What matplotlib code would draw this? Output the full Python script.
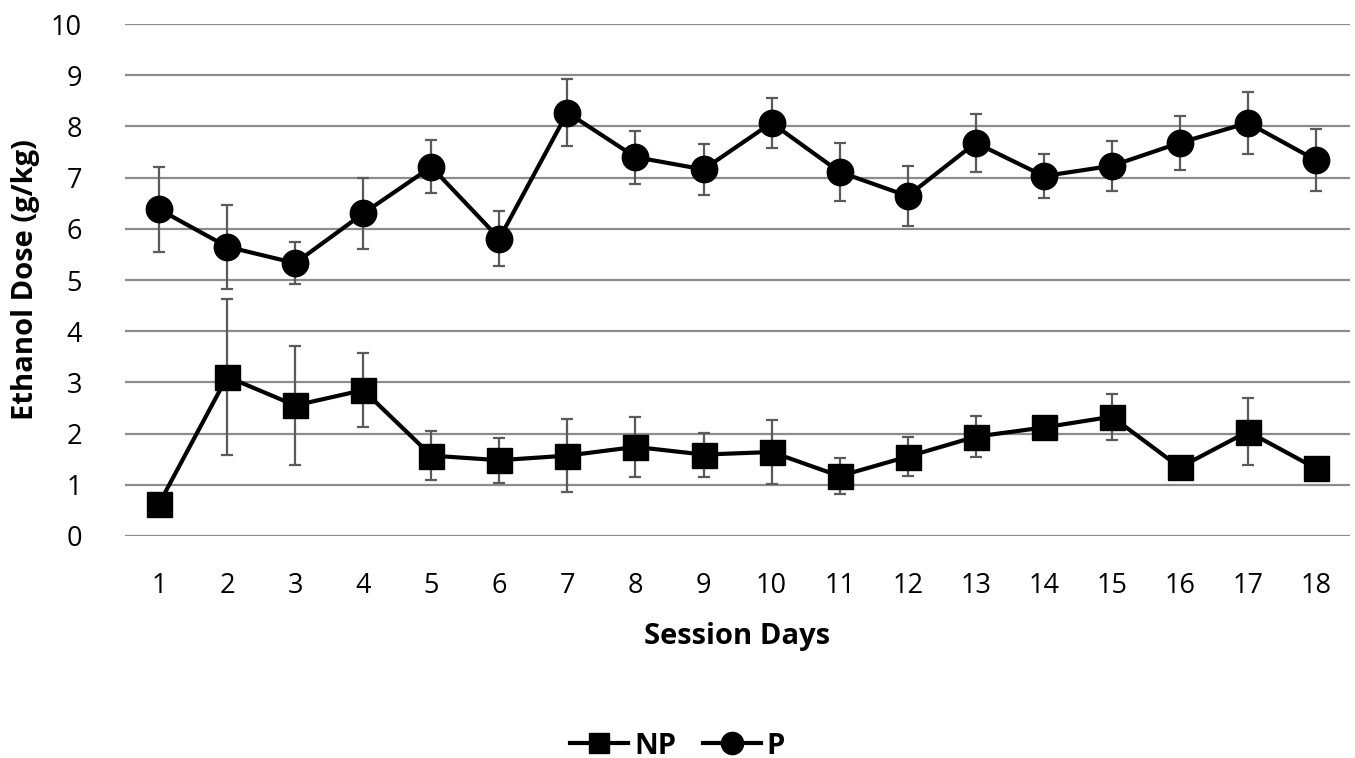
import numpy as np
import matplotlib.pyplot as plt
import matplotlib as mpl
from matplotlib.lines import Line2D

mpl.rcParams['font.family'] = ['Open Sans', 'DejaVu Sans']

days = np.arange(1, 19)

# P group: mean and error (g/kg)
p_mean = [6.38, 5.65, 5.33, 6.30, 7.21, 5.81, 8.27, 7.40, 7.16,
          8.07, 7.11, 6.64, 7.68, 7.03, 7.23, 7.68, 8.07, 7.34]
p_err = [0.83, 0.82, 0.41, 0.70, 0.52, 0.53, 0.66, 0.52, 0.50,
         0.49, 0.56, 0.59, 0.57, 0.43, 0.49, 0.53, 0.60, 0.61]

# NP group: mean and error (g/kg)
np_mean = [0.63, 3.11, 2.55, 2.85, 1.57, 1.48, 1.57, 1.74, 1.59,
           1.64, 1.17, 1.55, 1.94, 2.12, 2.33, 1.34, 2.04, 1.32]
np_err = [0.0, 1.52, 1.16, 0.72, 0.48, 0.44, 0.71, 0.58, 0.43,
          0.62, 0.35, 0.38, 0.40, 0.0, 0.45, 0.0, 0.65, 0.0]

fig = plt.figure(figsize=(13.55, 7.58), dpi=100)
ax = fig.add_axes([0.0923, 0.2929, 0.904, 0.6754])

ecol = '#5a5a5a'
ax.errorbar(days, np_mean, yerr=np_err, color='black', lw=3,
            marker='s', markersize=18, ecolor=ecol, elinewidth=1.6,
            capsize=4.5, capthick=1.6, zorder=3)
ax.errorbar(days, p_mean, yerr=p_err, color='black', lw=3,
            marker='o', markersize=19, ecolor=ecol, elinewidth=1.6,
            capsize=4.5, capthick=1.6, zorder=3)

ax.set_xlim(0.5, 18.5)
ax.set_ylim(0, 10)
ax.set_xticks(days)
ax.set_yticks(np.arange(0, 11, 1))
for s in ax.spines.values():
    s.set_visible(False)
ax.grid(True, axis='y', color='#8c8c8c', lw=1.6)
ax.set_axisbelow(True)
ax.tick_params(axis='both', length=0, labelsize=19.5, colors='black')
ax.tick_params(axis='y', pad=31)
ax.tick_params(axis='x', pad=26)

ax.set_xlabel('Session Days', fontsize=21, fontweight='bold', labelpad=16)
ax.set_ylabel('Ethanol Dose (g/kg)', fontsize=21, fontweight='bold', labelpad=8)

handles = [Line2D([], [], color='black', lw=3, marker='s', markersize=15),
           Line2D([], [], color='black', lw=3, marker='o', markersize=16)]
fig.legend(handles=handles, labels=['NP', 'P'], loc='lower center',
           bbox_to_anchor=(0.5, -0.038), ncol=2, frameon=False,
           prop={'weight': 'bold', 'size': 21}, handlelength=2.0,
           handletextpad=0.2, columnspacing=0.9)

fig.savefig('out.png', dpi=100)
